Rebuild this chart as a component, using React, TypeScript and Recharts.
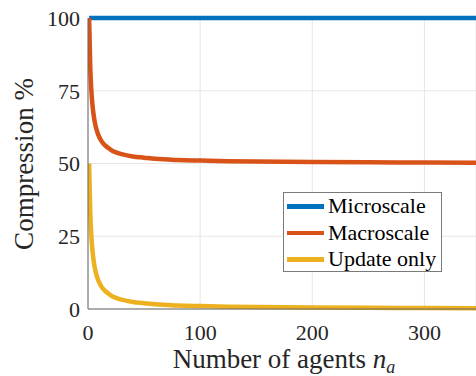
import { LineChart, Line, XAxis, YAxis, CartesianGrid } from "recharts";

const agents = [1, 2, 3, 4, 5, 6, 8, 10, 12, 15, 20, 25, 30, 40, 50, 60, 80, 100, 125, 150, 200, 250, 300, 350];
const microscale = [100, 100, 100, 100, 100, 100, 100, 100, 100, 100, 100, 100, 100, 100, 100, 100, 100, 100, 100, 100, 100, 100, 100, 100];
const macroscale = [100, 83.3, 75, 70, 66.7, 64.3, 61.1, 59.1, 57.7, 56.3, 54.8, 53.8, 53.2, 52.4, 52, 51.6, 51.2, 51, 50.8, 50.66, 50.5, 50.4, 50.33, 50.28];
const updateOnly = [50, 33.3, 25, 20, 16.7, 14.3, 11.1, 9.1, 7.7, 6.3, 4.8, 3.8, 3.2, 2.4, 2, 1.6, 1.2, 1, 0.8, 0.66, 0.5, 0.4, 0.33, 0.28];

const xTicks = [0, 100, 200, 300];
const yTicks = [0, 25, 50, 75, 100];

const seriesInfo = [
  { key: "micro", name: "Microscale", color: "#0072BD" },
  { key: "macro", name: "Macroscale", color: "#D95319" },
  { key: "update", name: "Update only", color: "#EDB120" },
];

const data = agents.map((n, i) => ({
  n,
  micro: microscale[i],
  macro: macroscale[i],
  update: updateOnly[i],
}));

export default function App() {
  return (
    <div style={{ width: 476, height: 376, position: "relative", background: "#fff", overflow: "hidden", fontFamily: "Liberation Serif" }}>
      <style>{"body{margin:0} svg text{font-family:'Liberation Serif'}"}</style>
      <LineChart
        width={476}
        height={376}
        data={data}
        margin={{ top: 18, right: 0, left: 0, bottom: 0 }}
      >
        <CartesianGrid stroke="#e6e6e6" strokeWidth={1} />
        <XAxis
          dataKey="n"
          type="number"
          domain={[0, 346]}
          allowDataOverflow
          ticks={xTicks}
          height={67}
          tickSize={0}
          tickMargin={15}
          stroke="#666"
          tick={{ fill: "#262626", fontSize: 22, fontFamily: "Liberation Serif" }}
        />
        <YAxis
          type="number"
          domain={[0, 100]}
          ticks={yTicks}
          width={88}
          tickSize={0}
          tickMargin={8}
          stroke="#666"
          tick={{ fill: "#262626", fontSize: 22, fontFamily: "Liberation Serif" }}
        />
        {seriesInfo.map((s) => (
          <Line
            key={s.key}
            dataKey={s.key}
            name={s.name}
            type="monotone"
            stroke={s.color}
            strokeWidth={4.5}
            dot={false}
            isAnimationActive={false}
          />
        ))}
      </LineChart>
      <svg width={476} height={376} style={{ position: "absolute", left: 0, top: 0, pointerEvents: "none" }}>
        <text x={284} y={368} textAnchor="middle" fontFamily="Liberation Serif" fontSize={27} fill="#262626">
          Number of agents <tspan fontStyle="italic">n</tspan>
          <tspan fontStyle="italic" fontSize={18} dy={5}>a</tspan>
        </text>
        <text
          transform="translate(33,164) rotate(-90)"
          textAnchor="middle"
          fontFamily="Liberation Serif"
          fontSize={27}
          fill="#262626"
        >
          Compression %
        </text>
      </svg>
      <div
        style={{
          position: "absolute",
          left: 283,
          top: 192,
          width: 159,
          height: 80,
          boxSizing: "border-box",
          border: "1px solid #7a7a7a",
          background: "#fff",
          paddingLeft: 3,
          fontFamily: "Liberation Serif",
          fontSize: 22,
          color: "#000",
          lineHeight: "26.5px",
        }}
      >
        {seriesInfo.map((s) => (
          <div key={s.key} style={{ display: "flex", alignItems: "center", whiteSpace: "nowrap" }}>
            <div style={{ width: 37, height: 4.5, background: s.color, marginRight: 4, flexShrink: 0 }} />
            <span>{s.name}</span>
          </div>
        ))}
      </div>
    </div>
  );
}
